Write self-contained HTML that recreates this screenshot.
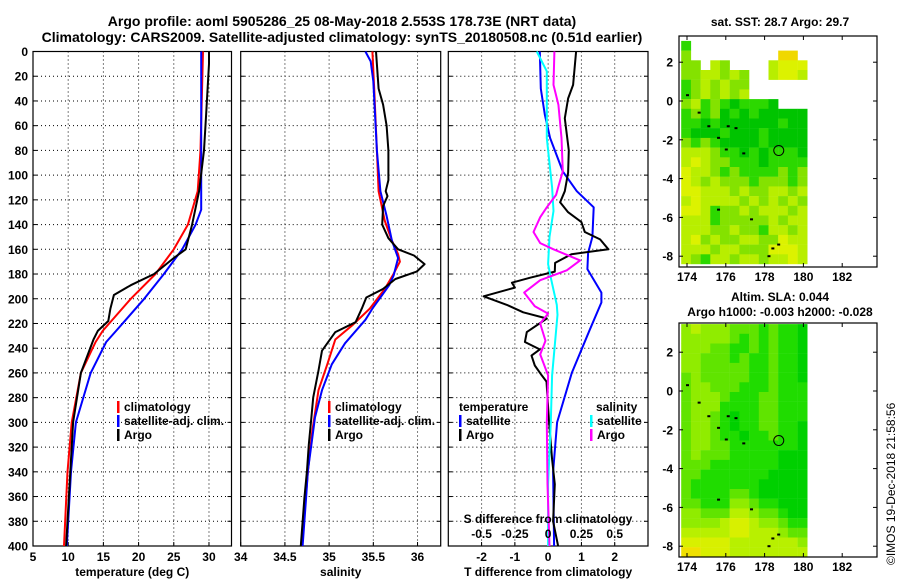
<!DOCTYPE html>
<html><head><meta charset="utf-8">
<style>
html,body{margin:0;padding:0;background:#fff;}
svg{display:block;font-family:"Liberation Sans",Arial,sans-serif;font-weight:bold;}
</style></head>
<body>
<svg id="fig" width="900" height="580" viewBox="0 0 900 580" xmlns="http://www.w3.org/2000/svg">
<text x="342" y="26" font-size="14" text-anchor="middle">Argo profile: aoml 5905286_25 08-May-2018 2.553S 178.73E (NRT data)</text>
<text x="342" y="42" font-size="14" text-anchor="middle">Climatology: CARS2009. Satellite-adjusted climatology: synTS_20180508.nc (0.51d earlier)</text>
<g id="panels"></g>
<text x="780" y="26" font-size="12" text-anchor="middle">sat. SST: 28.7 Argo: 29.7</text>
<text x="780" y="301" font-size="12" text-anchor="middle">Altim. SLA: 0.044</text>
<text x="780" y="316" font-size="12" text-anchor="middle">Argo h1000: -0.003 h2000: -0.028</text>
<text transform="translate(895,565) rotate(-90)" font-size="12" font-weight="normal">©IMOS 19-Dec-2018 21:58:56</text>
</svg>
<script>
// ---------- data ----------
const depthTicks=[0,20,40,60,80,100,120,140,160,180,200,220,240,260,280,300,320,340,360,380,400];
const tempTicks=[5,10,15,20,25,30];
const salTicks=[34,34.5,35,35.5,36];
const tdiffTicks=[-2,-1,0,1,2];
const sdiffTicks=[-0.5,-0.25,0,0.25,0.5];
const sdiffLabels=["-0.5","-0.25","0","0.25","0.5"];

const argoTempDepth=[0,10,30,50,80,113,140,160,167,180,189,197,208,218,226,233,260,300,340,400];
const argoTemp=[30.0,30.0,29.8,29.6,29.3,28.6,27.6,26.7,25.0,22.2,18.9,16.5,16.0,15.7,14.2,13.6,11.8,10.7,10.3,9.7];
const climTempDepth=[0,80,113,140,160,180,200,226,235,260,300,340,400];
const climTemp=[29.15,28.8,28.4,27.0,25.0,22.4,18.9,14.9,13.9,11.8,10.5,9.9,9.4];
const satTempDepth=[0,128,140,160,180,200,226,235,260,300,340,400];
const satTemp=[28.9,28.9,28.1,26.2,23.6,20.8,16.8,15.4,13.2,11.1,10.4,9.8];

const argoSalDepth=[0,30,43,60,80,104,113,117,125,140,151,160,165,172,178,184,192,199,208,219,227,242,258,280,296,318,339,361,400];
const argoSal=[35.53,35.56,35.61,35.65,35.67,35.67,35.64,35.66,35.61,35.6,35.67,35.78,35.96,36.08,35.99,35.75,35.61,35.42,35.37,35.3,35.07,34.92,34.88,34.82,34.8,34.77,34.75,34.72,34.68];
const climSalDepth=[0,30,80,113,137,153,164,170,181,192,208,221,233,253,274,307,340,400];
const climSal=[35.49,35.51,35.54,35.56,35.63,35.71,35.78,35.8,35.72,35.63,35.46,35.27,35.07,34.98,34.88,34.81,34.76,34.69];
const satSalDepth=[0,8,24,80,113,133,153,167,181,189,208,217,236,253,274,296,318,339,361,400];
const satSal=[35.41,35.47,35.5,35.54,35.58,35.65,35.71,35.78,35.73,35.68,35.49,35.41,35.18,35.03,34.92,34.84,34.8,34.76,34.74,34.7];

const satTdiffDepth=[0,30,51,70,97,113,126,150,163,176,195,203,225,260,300,340,400];
const satTdiff=[-0.25,-0.22,-0.1,0.06,0.44,0.86,1.37,1.33,1.2,1.18,1.6,1.6,1.25,0.71,0.27,0.15,0.18];
const argoTdiffDepth=[0,27,38,54,80,98,113,122,130,138,146,152,160,164,171,178,183,187,191,198,205,211,216,227,235,241,246,254,262,267,280,300,330,350,380,400];
const argoTdiff=[0.84,0.75,0.6,0.5,0.62,0.6,0.5,0.36,0.6,1.0,1.1,1.56,1.81,0.7,0.21,0.2,-0.54,-1.09,-1.0,-1.94,-1.24,-0.75,-0.04,-0.64,-0.7,-0.25,-0.5,-0.4,-0.19,-0.05,-0.02,0.03,0.12,0.2,0.15,0.3];
const argoSdiffDepth=[0,27,43,70,97,108,116,126,134,146,155,160,169,177,185,195,206,212,220,234,245,262,300,350,400];
const argoSdiff=[0.047,0.04,0.077,0.1,0.11,0.08,0.06,-0.01,-0.06,-0.11,-0.06,0.04,0.24,0.14,-0.06,-0.18,-0.1,0.0,-0.06,-0.02,-0.06,0.0,-0.01,-0.005,0.01];
const satSdiffDepth=[0,16,43,70,110,129,150,172,183,205,213,262,300,350,400];
const satSdiff=[-0.085,-0.01,-0.01,-0.01,0.03,0.04,0.01,0.0,0.02,0.065,0.07,0.03,0.02,0.0,0.0];

const mapLonTicks=[174,176,178,180,182];
const mapLatTicks=[2,0,-2,-4,-6,-8];
const sstColors=["#00c400","#2cd800","#84e200","#b8ee00","#dcf200","#f0d800","#f8c400"];
const sstGrid=[
"1............",
"2.........55..",
"22.32....3444",
"2233232..3443",
"1232322......",
"1232323......",
"2312101110...",
"1212010100000",
"1101000000100",
"1000100010000",
"2121000010000",
"3332110101110",
"3432211101111",
"4332121111212",
"4323222122212",
"4433323223323",
"3433332323232",
"4431223233323",
"3331222223233",
"3332232213323",
"3423223322433",
"3332332224443",
"3213323323343"];
const slaColors=["#00d000","#20dc00","#60e400","#90ec00","#b8f000","#d8f000","#f0e000"];
const slaGrid=[
"3433322212110","3333321212110","3332211212110","3322212112110","3322222112110","2322222112110",
"2332221112111","2333211122111","2333111122111","2332101122111","2332101122110","2332110112110",
"2332211111110","2322211111000","2221111111000","2211111110000","2111111100000","2111122100000",
"2211133211000","3322244322100","3333455433211","4444455444322","5555544444443","6655544444444"];
const islandLons=[174.0,174.6,175.1,175.6,176.1,176.5,176.9,176.0,177.3,178.4,178.7,178.2,175.6];
const islandLats=[0.3,-0.6,-1.3,-1.9,-1.3,-1.4,-2.7,-2.5,-6.1,-7.6,-7.4,-8.0,-5.6];
const argoLon=[178.73];
const argoLat=[-2.553];

// ---------- helpers ----------
const NS="http://www.w3.org/2000/svg";
const root=document.getElementById('panels');
function mk(tag,attrs,parent){const e=document.createElementNS(NS,tag);for(const k in attrs)e.setAttribute(k,attrs[k]);(parent||root).appendChild(e);return e;}
const TOP=51.5,BOT=546;
const SSCALE=4;
const yD=d=>TOP+(d/400)*(BOT-TOP);

function panel(name,x0,x1,xmin,xmax,xticks,xlabels,showY,xlabel){
  const g=mk('g',{});
  
  
  const sx=v=>x0+(v-xmin)/(xmax-xmin)*(x1-x0);
  xticks.forEach(v=>{const X=sx(v);if(X>x0+1&&X<x1-1){const l=mk('line',{x1:X,x2:X,y1:TOP,y2:BOT,stroke:'#000','stroke-width':1,'stroke-dasharray':'1,3'},g);}});
  depthTicks.forEach(d=>{const Y=yD(d);if(d>0&&d<400){const l=mk('line',{x1:x0,x2:x1,y1:Y,y2:Y,stroke:'#000','stroke-width':1,'stroke-dasharray':'1,3'},g);}
    mk('line',{x1:x0,x2:x0+4,y1:Y,y2:Y,stroke:'#000'},g);mk('line',{x1:x1-4,x2:x1,y1:Y,y2:Y,stroke:'#000'},g);
    if(showY){const t=mk('text',{x:28,y:Y+4.5,'font-size':12,'text-anchor':'end'},g);t.textContent=d;}
  });
  if(xlabels){xticks.forEach((v,i)=>{const X=sx(v);mk('line',{x1:X,x2:X,y1:BOT-4,y2:BOT,stroke:'#000'},g);const t=mk('text',{x:X,y:561,'font-size':12,'text-anchor':'middle'},g);t.textContent=xlabels[i];});}
  if(xlabel){const t=mk('text',{x:(x0+x1)/2,y:576,'font-size':12,'text-anchor':'middle'},g);t.textContent=xlabel;}
  const r=mk('rect',{x:x0,y:TOP,width:x1-x0,height:BOT-TOP,fill:'none',stroke:'#000','stroke-width':1.2},g);
  
  return {g,sx};
}
function series(p,depths,vals,color,w,name,scale){
  const pts=depths.map((d,i)=>p.sx(vals[i]*(scale||1)).toFixed(1)+','+yD(d).toFixed(1)).join(' ');
  const l=mk('polyline',{points:pts,fill:'none',stroke:color,'stroke-width':w,'stroke-linejoin':'round'},p.g);
  
  
}
function legend(g,x,y,items){
  items.forEach((it,i)=>{const Y=y+i*14;mk('rect',{x:x,y:Y-10,width:2.5,height:12,fill:it[1]},g);
    const t=mk('text',{x:x+7,y:Y,'font-size':12},g);t.textContent=it[0];
    });
}

const pT=panel('temperature-panel',33,231.5,5,33.2,tempTicks,tempTicks.map(String),true,'temperature (deg C)');
series(pT,climTempDepth,climTemp,'#f00',2,'climatology-temp-line');
series(pT,satTempDepth,satTemp,'#00f',2,'satellite-temp-line');
series(pT,argoTempDepth,argoTemp,'#000',2,'argo-temp-line');
legend(pT.g,117,411,[['climatology','#f00'],['satellite-adj. clim.','#00f'],['Argo','#000']]);

const pS=panel('salinity-panel',240.7,440.7,34,36.262,salTicks,salTicks.map(String),false,'salinity');
series(pS,climSalDepth,climSal,'#f00',2,'climatology-sal-line');
series(pS,satSalDepth,satSal,'#00f',2,'satellite-sal-line');
series(pS,argoSalDepth,argoSal,'#000',2,'argo-sal-line');
legend(pS.g,328,411,[['climatology','#f00'],['satellite-adj. clim.','#00f'],['Argo','#000']]);

const pD=panel('difference-panel',448.3,648,-3,3,tdiffTicks,tdiffTicks.map(String),false,'T difference from climatology');
series(pD,satTdiffDepth,satTdiff,'#00f',2,'satellite-tdiff-line');
series(pD,argoTdiffDepth,argoTdiff,'#000',2,'argo-tdiff-line');
series(pD,satSdiffDepth,satSdiff,'#00ffff',2,'satellite-sdiff-line',SSCALE);
series(pD,argoSdiffDepth,argoSdiff,'#ff00ff',2,'argo-sdiff-line',SSCALE);
(function(){const g=pD.g;
  const t=mk('text',{x:548,y:523,'font-size':12,'text-anchor':'middle'},g);t.textContent='S difference from climatology';
  sdiffTicks.forEach((v,i)=>{const tt=mk('text',{x:pD.sx(v*SSCALE),y:538,'font-size':12,'text-anchor':'middle'},g);tt.textContent=sdiffLabels[i];});
  let t2=mk('text',{x:459,y:411,'font-size':12},g);t2.textContent='temperature';
  legend(g,459,425,[['satellite','#00f'],['Argo','#000']]);
  t2=mk('text',{x:596,y:411,'font-size':12},g);t2.textContent='salinity';
  legend(g,590,425,[['satellite','#00ffff'],['Argo','#ff00ff']]);
})();

function map(name,bx0,by0,bx1,by1,lat0y,grid,colors,topLat){
  const g=mk('g',{});
  
  
  const sx=lon=>687+(lon-174)*19.4, sy=lat=>lat0y-lat*19.4;
  const cp='clip'+name;const c=mk('clipPath',{id:cp},g);mk('rect',{x:bx0,y:by0,width:bx1-bx0,height:by1-by0},c);
  const cg=mk('g',{'clip-path':'url(#'+cp+')'},g);
  grid.forEach((row,j)=>{for(let i=0;i<13&&i<row.length;i++){const ch=row[i];if(ch==='.')continue;
    const lonL=173.7+0.5*i,latT=topLat-0.5*j;
    const r=mk('rect',{x:sx(lonL).toFixed(1),y:sy(latT).toFixed(1),width:9.9,height:9.9,fill:colors[+ch]},cg);
    
    }});
  islandLons.forEach((lo,i)=>{const r=mk('rect',{x:sx(lo)-1,y:sy(islandLats[i])-1,width:3,height:2,fill:'#000'},cg);
    });
  const ci=mk('circle',{cx:sx(argoLon[0]),cy:sy(argoLat[0]),r:5,fill:'none',stroke:'#000','stroke-width':1},g);
  
  mk('rect',{x:bx0,y:by0,width:bx1-bx0,height:by1-by0,fill:'none',stroke:'#000','stroke-width':1.2},g);
  mapLonTicks.forEach(v=>{const X=sx(v);mk('line',{x1:X,x2:X,y1:by1-4,y2:by1,stroke:'#000'},g);mk('line',{x1:X,x2:X,y1:by0,y2:by0+4,stroke:'#000'},g);
    const t=mk('text',{x:X,y:by1+14,'font-size':12,'text-anchor':'middle'},g);t.textContent=v;});
  mapLatTicks.forEach(v=>{const Y=sy(v);mk('line',{x1:bx0,x2:bx0+4,y1:Y,y2:Y,stroke:'#000'},g);mk('line',{x1:bx1-4,x2:bx1,y1:Y,y2:Y,stroke:'#000'},g);
    const t=mk('text',{x:bx0-6,y:Y+4.5,'font-size':12,'text-anchor':'end'},g);t.textContent=v;});
}
map('sst-map',679,36,877,267,101,sstGrid,sstColors,3.1);
map('sla-map',679,323,877,557,391,slaGrid,slaColors,3.45);
</script>
</body></html>
